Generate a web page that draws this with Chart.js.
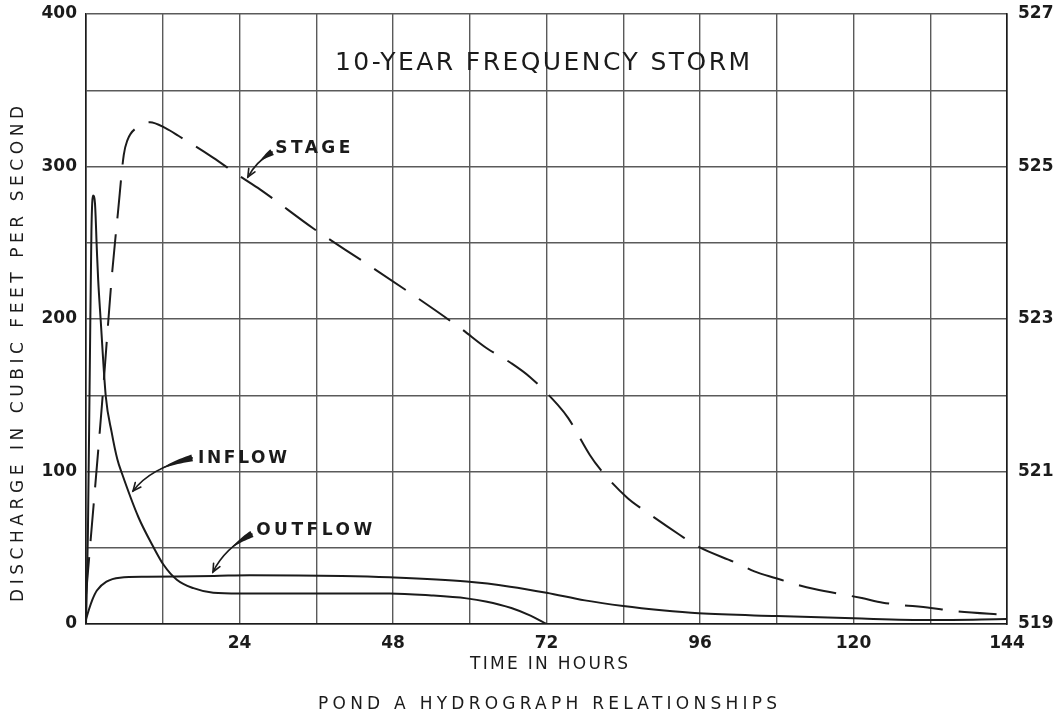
<!DOCTYPE html>
<html>
<head>
<meta charset="utf-8">
<script src="https://cdn.jsdelivr.net/npm/chart.js@4.4.1/dist/chart.umd.min.js"></script>
<style>
  html, body { margin: 0; padding: 0; background: #ffffff; }
  #wrap { width: 1064px; height: 713px; }
</style>
</head>
<body>
<div id="wrap"><canvas id="hydro" width="1064" height="713"></canvas></div>
<script>
// time in hours, discharge in cfs, stage in feet
var inflowHours = [0, 0.3, 0.6, 0.85, 1.1, 1.4, 1.7, 1.9, 2.3, 3.1, 4.0, 4.9, 5.6, 8.2, 10.6, 12.1, 14.2, 16.8, 19.9, 24, 36, 47.5, 54, 59.5, 62.5, 66.5, 69.5, 72];
var inflowCfs   = [0, 60, 170, 258, 281, 276, 245, 226, 199, 149, 126, 108, 99, 70, 50, 39, 29, 23.5, 20.5, 20, 20, 20, 18.7, 16.8, 14.8, 10.5, 5.5, 0];

var outflowHours = [0, 0.5, 1, 1.7, 3.2, 5.3, 9.5, 20, 25.6, 40, 47.5, 59.5, 66.3, 72, 78, 84, 90, 95.8, 108, 120, 132, 144];
var outflowCfs   = [3, 10, 16, 22, 27.8, 30.4, 31, 31.5, 32, 31.5, 30.6, 27.8, 24.5, 20.5, 15.5, 11.8, 9, 7, 5.2, 3.7, 2.6, 3.2];

var stageHours = [0, 0.3, 2.45, 4.1, 5.0, 5.9, 6.45, 8.1, 10, 12.5, 14.5, 19.8, 24.1, 27.2, 35.5, 43.6, 51.4, 58.7, 62.6, 66.5, 69.4, 73.8, 75.4, 78.75, 80.3, 84.7, 87.1, 92.8, 95.8, 101.7, 104.5, 107.9, 111, 113.9, 121.3, 124.6, 132.1, 135.8, 144];
var stageFeet  = [519.38, 519.68, 521.83, 523.62, 524.4, 525.15, 525.34, 525.52, 525.58, 525.5, 525.4, 525.12, 524.87, 524.7, 524.19, 523.74, 523.3, 522.87, 522.62, 522.42, 522.24, 521.87, 521.7, 521.22, 521.04, 520.65, 520.5, 520.17, 520.01, 519.8, 519.69, 519.6, 519.52, 519.46, 519.34, 519.28, 519.21, 519.17, 519.12];

var hourTicks = [24, 48, 72, 96, 120, 144];
var cfsTicks = [0, 100, 200, 300, 400];
var stageTicks = [519, 521, 523, 525, 527];

var INK = '#1b1b1b';
var GRID = '#5a5a5a';
var FONT = "'DejaVu Sans', 'Liberation Sans', sans-serif";

function pairs(xs, ys){
	var out = [];
	for (var i = 0; i < xs.length; i++){ out.push({ x: xs[i], y: ys[i] }); }
	return out;
}

// callout labels with arrows, given in data units (hours, cfs)
var callouts = [
	{ text: 'STAGE',   at: [29.6, 311.5], span: 75,  from: [29.1, 309.5], ctrl: [26.6, 303],  tip: [25.3, 293.1] },
	{ text: 'INFLOW',  at: [17.5, 108.2], span: 89,  from: [16.6, 108.9], ctrl: [10.0, 102.3], tip: [7.35, 87.2] },
	{ text: 'OUTFLOW', at: [26.6, 61],    span: 116, from: [25.95, 59.0], ctrl: [21.7, 49.8],  tip: [19.85, 34.1] }
];

// draw text spread out to a given width (hand lettering is wider than the font)
function spreadText(ctx, text, left, y, width){
	ctx.letterSpacing = '0px';
	var w = ctx.measureText(text).width;
	var gap = (width - w) / (text.length - 1);
	ctx.letterSpacing = gap.toFixed(2) + 'px';
	ctx.textAlign = 'left';
	ctx.fillText(text, left, y);
	ctx.letterSpacing = '0px';
}

function drawArrow(ctx, p0, p1, p2){
	// thick wedge near the label, thin shaft, open head at the tip
	function q(t){
		var a = (1-t)*(1-t), b = 2*(1-t)*t, c = t*t;
		return [a*p0[0] + b*p1[0] + c*p2[0], a*p0[1] + b*p1[1] + c*p2[1]];
	}
	ctx.save();
	ctx.strokeStyle = INK;
	ctx.fillStyle = INK;
	ctx.lineCap = 'round';
	ctx.lineWidth = 1.6;
	ctx.beginPath();
	ctx.moveTo(p0[0], p0[1]);
	ctx.quadraticCurveTo(p1[0], p1[1], p2[0], p2[1]);
	ctx.stroke();
	var n = 12, left = [], right = [];
	for (var i = 0; i <= n; i++){
		var t = i / n * 0.45;
		var a = q(t), b = q(Math.min(t + 0.01, 1));
		var dx = b[0]-a[0], dy = b[1]-a[1], len = Math.sqrt(dx*dx+dy*dy) || 1;
		var w = 3.4 * (1 - t/0.45);
		left.push([a[0] - dy/len*w, a[1] + dx/len*w]);
		right.push([a[0] + dy/len*w, a[1] - dx/len*w]);
	}
	ctx.beginPath();
	ctx.moveTo(left[0][0], left[0][1]);
	for (var j = 1; j < left.length; j++){ ctx.lineTo(left[j][0], left[j][1]); }
	for (var k = right.length-1; k >= 0; k--){ ctx.lineTo(right[k][0], right[k][1]); }
	ctx.closePath();
	ctx.fill();
	var e = q(0.9);
	var hx = p2[0]-e[0], hy = p2[1]-e[1], hl = Math.sqrt(hx*hx+hy*hy) || 1;
	hx /= hl; hy /= hl;
	var s = 8;
	ctx.beginPath();
	ctx.moveTo(p2[0] - hx*s - hy*s*0.45, p2[1] - hy*s + hx*s*0.45);
	ctx.lineTo(p2[0], p2[1]);
	ctx.lineTo(p2[0] - hx*s + hy*s*0.45, p2[1] - hy*s - hx*s*0.45);
	ctx.stroke();
	ctx.restore();
}

var platePlugin = {
	id: 'plate',
	afterDraw: function(chart){
		var ctx = chart.ctx, xs = chart.scales.x, ys = chart.scales.y;
		function px(p){ return [xs.getPixelForValue(p[0]), ys.getPixelForValue(p[1])]; }

		ctx.save();
		ctx.fillStyle = INK;
		ctx.textBaseline = 'middle';

		// storm title inside the grid
		ctx.font = '25px ' + FONT;
		spreadText(ctx, '10-YEAR FREQUENCY STORM', 335, 63, 415);

		// callouts
		ctx.font = 'bold 17px ' + FONT;
		callouts.forEach(function(c){
			var p = px(c.at);
			spreadText(ctx, c.text, p[0], p[1], c.span);
			drawArrow(ctx, px(c.from), px(c.ctrl), px(c.tip));
		});

		// axis titles and plate caption
		ctx.font = '17px ' + FONT;
		spreadText(ctx, 'TIME IN HOURS', 470, 665, 158);
		spreadText(ctx, 'POND A HYDROGRAPH RELATIONSHIPS', 318, 705, 459);

		ctx.save();
		ctx.translate(19, 602);
		ctx.rotate(-Math.PI / 2);
		spreadText(ctx, 'DISCHARGE IN CUBIC FEET PER SECOND', 0, 0, 496);
		ctx.restore();

		ctx.restore();
	}
};

// fixed axis boxes so the grid lands where the plate has it
function fixBox(w, h){
	return function(s){
		if (w) { s.width = w; }
		if (h) { s.height = h; }
		s.paddingTop = 0; s.paddingBottom = 0;
		s.paddingLeft = 0; s.paddingRight = 0;
	};
}

function init_chart_pond(){

	if( typeof (Chart) === 'undefined'){ return; }

	var lineStyle = {
		borderColor: INK,
		borderWidth: 2,
		pointRadius: 0,
		fill: false,
		cubicInterpolationMode: 'monotone'
	};

	var tickFont = { family: FONT, size: 17, weight: 'bold' };

	var settings = {
		type: 'line',
		data: {
			datasets: [
				Object.assign({ label: 'Inflow',  data: pairs(inflowHours, inflowCfs),   yAxisID: 'y' }, lineStyle),
				Object.assign({ label: 'Outflow', data: pairs(outflowHours, outflowCfs), yAxisID: 'y' }, lineStyle),
				Object.assign({ label: 'Stage',   data: pairs(stageHours, stageFeet),    yAxisID: 'y2', borderDash: [38, 16] }, lineStyle)
			]
		},
		options: {
			responsive: false,
			animation: false,
			devicePixelRatio: 1,
			layout: { padding: { top: 14, left: 0, right: 0, bottom: 0 } },
			plugins: { legend: { display: false }, tooltip: { enabled: false } },
			scales: {
				x: {
					type: 'linear',
					position: 'bottom',
					min: 0, max: 144,
					afterFit: fixBox(0, 89),
					grid: { color: GRID, lineWidth: 1.4, drawTicks: false },
					border: { color: INK, width: 1.6 },
					ticks: {
						stepSize: 12,
						autoSkip: false,
						maxRotation: 0,
						padding: 9,
						color: INK,
						font: tickFont,
						callback: function(v){ return hourTicks.indexOf(v) >= 0 ? String(v) : ''; }
					}
				},
				y: {
					position: 'left',
					min: 0, max: 400,
					afterFit: fixBox(86, 0),
					grid: { color: GRID, lineWidth: 1.4, drawTicks: false },
					border: { color: INK, width: 1.6 },
					ticks: {
						stepSize: 50,
						padding: 9,
						color: INK,
						font: tickFont,
						callback: function(v){ return cfsTicks.indexOf(v) >= 0 ? String(v) : ''; }
					}
				},
				y2: {
					position: 'right',
					min: 519, max: 527,
					afterFit: fixBox(57, 0),
					grid: { drawOnChartArea: false, drawTicks: false },
					border: { color: INK, width: 1.6 },
					ticks: {
						stepSize: 1,
						padding: 11,
						color: INK,
						font: tickFont,
						callback: function(v){ return stageTicks.indexOf(v) >= 0 ? String(v) : ''; }
					}
				}
			}
		},
		plugins: [platePlugin]
	};

	new Chart(document.getElementById('hydro'), settings);
}

init_chart_pond();
</script>
</body>
</html>
